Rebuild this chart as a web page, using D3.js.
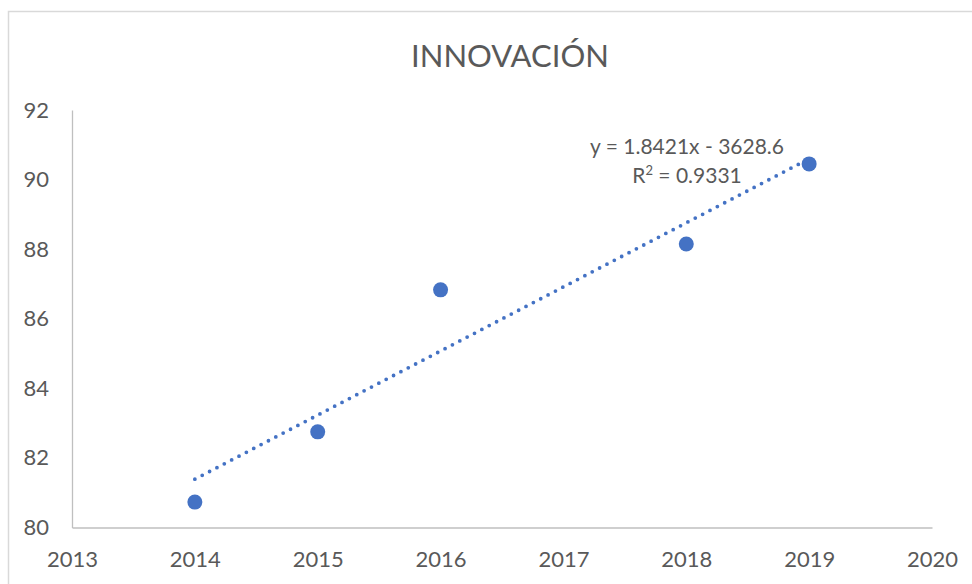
<!DOCTYPE html>
<html>
<head>
<meta charset="utf-8">
<script src="https://cdn.jsdelivr.net/npm/d3@7"></script>
<style>
  body { margin: 0; background: #fff; }
  text { font-family: Lato, "Open Sans", sans-serif; fill: #595959; }
</style>
</head>
<body>
<div id="chart"></div>
<script>
// data
var years = [2014, 2015, 2016, 2018, 2019]
var scores = [80.73, 82.75, 86.83, 88.15, 90.45]
var xTicks = [2013, 2014, 2015, 2016, 2017, 2018, 2019, 2020]
var yTicks = [80, 82, 84, 86, 88, 90, 92]
// trendline as printed on the chart
var slope = 1.8421
var intercept = -3628.6
var eqLabel = "y = 1.8421x - 3628.6"
var r2Value = "0.9331"

var w = 972, h = 584
var svg = d3.select("#chart").append("svg").attr("width", w).attr("height", h)

// outer chart frame (runs past the right and bottom edge)
svg.append("rect")
  .attr("x", 8.5).attr("y", 11.5)
  .attr("width", 1000).attr("height", 600)
  .attr("fill", "none")
  .attr("stroke", "#d9d9d9")
  .attr("stroke-width", 1.5)

var x = d3.scaleLinear().domain([2013, 2020]).range([72, 932])
var y = d3.scaleLinear().domain([80, 92]).range([527.5, 110])

// title
svg.append("text")
  .attr("x", 510).attr("y", 67)
  .attr("text-anchor", "middle")
  .style("font-size", "31px")
  .text("INNOVACIÓN")

// axes
var xAxis = svg.append("g")
  .attr("transform", "translate(0," + y(80) + ")")
  .call(d3.axisBottom(x).tickValues(xTicks).tickFormat(d3.format("d")).tickSize(0).tickPadding(39))
xAxis.select(".domain").attr("stroke", "#bfbfbf").attr("stroke-width", 1.3)
xAxis.selectAll("text").style("font-size", "22px").attr("fill", "#595959").attr("dy", "0")

var yAxis = svg.append("g")
  .attr("transform", "translate(" + x(2013) + ",0)")
  .call(d3.axisLeft(y).tickValues(yTicks).tickSize(0).tickPadding(23))
yAxis.select(".domain").attr("stroke", "#bfbfbf").attr("stroke-width", 1.3)
yAxis.selectAll("text").style("font-size", "22px").attr("fill", "#595959")

// trendline (dotted)
var x0 = d3.min(years), x1 = d3.max(years)
svg.append("line")
  .attr("x1", x(x0)).attr("y1", y(slope * x0 + intercept))
  .attr("x2", x(x1)).attr("y2", y(slope * x1 + intercept))
  .attr("stroke", "#4472c4")
  .attr("stroke-width", 3.8)
  .attr("stroke-linecap", "round")
  .attr("stroke-dasharray", "0 8.3")

// points
svg.selectAll("circle.pt")
  .data(years)
  .enter().append("circle")
  .attr("class", "pt")
  .attr("cx", function (d) { return x(d) })
  .attr("cy", function (d, i) { return y(scores[i]) })
  .attr("r", 7.5)
  .attr("fill", "#4472c4")

// equation label
var eq = svg.append("text")
  .attr("x", 687).attr("y", 154)
  .attr("text-anchor", "middle")
  .style("font-size", "21px")
eq.append("tspan").attr("x", 687).text(eqLabel)
var r2 = eq.append("tspan").attr("x", 687).attr("dy", 29)
r2.append("tspan").text("R")
r2.append("tspan").attr("dy", -8).style("font-size", "13px").text("2")
r2.append("tspan").attr("dy", 8).text(" = " + r2Value)
</script>
</body>
</html>
